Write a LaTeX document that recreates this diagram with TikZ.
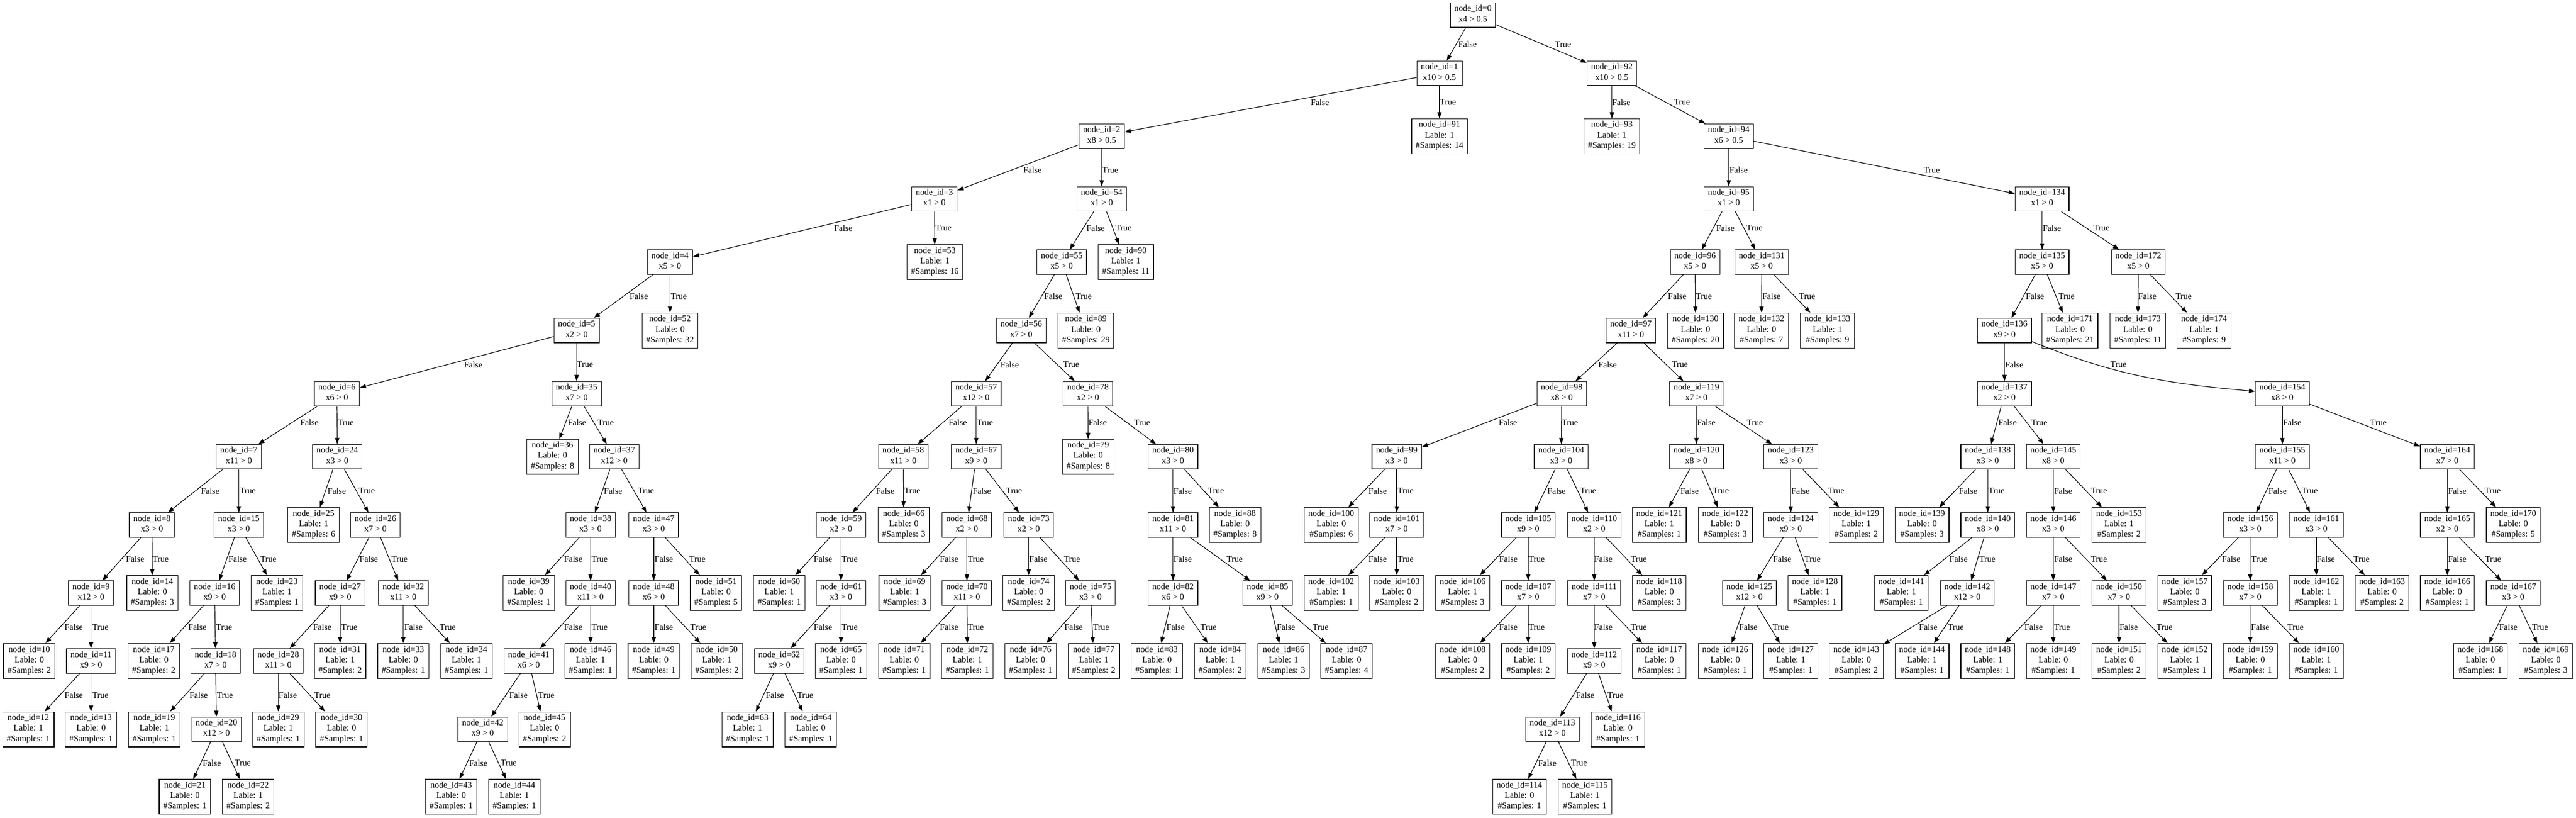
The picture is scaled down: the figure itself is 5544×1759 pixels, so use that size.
\documentclass[tikz,border=0pt]{standalone}
\usepackage{fontspec}
\setmainfont{Liberation Serif}
\usetikzlibrary{arrows.meta}

\begin{document}
\begin{tikzpicture}[x=0.75pt, y=-0.75pt,
    dnode/.style={rectangle, draw, line width=1pt, align=center, inner xsep=6.5pt, inner ysep=4pt,
      font=\fontsize{14}{16.8}\selectfont, execute at begin node=\strut, execute at end node=\strut},
    link/.style={-{Triangle[length=10pt, width=7pt]}, line width=1pt},
    lbl/.style={anchor=west, inner sep=0pt, font=\fontsize{14}{16.8}\selectfont}]
    \useasboundingbox (0, 0) rectangle (5544, 1759);
    % Nodes
    \node (n0) [dnode] at (3170, 32.4) {node\_id=0\\x4 > 0.5};
    \node (n1) [dnode] at (3098, 157.6) {node\_id=1\\x10 > 0.5};
    \node (n92) [dnode] at (3469, 157.6) {node\_id=92\\x10 > 0.5};
    \node (n2) [dnode] at (2371, 293) {node\_id=2\\x8 > 0.5};
    \node (n91) [dnode] at (3098, 293) {node\_id=91\\Lable: 1\\\#Samples: 14};
    \node (n93) [dnode] at (3469, 293) {node\_id=93\\Lable: 1\\\#Samples: 19};
    \node (n94) [dnode] at (3720.5, 293) {node\_id=94\\x6 > 0.5};
    \node (n3) [dnode] at (2011, 428) {node\_id=3\\x1 > 0};
    \node (n54) [dnode] at (2371, 428) {node\_id=54\\x1 > 0};
    \node (n95) [dnode] at (3720.5, 428) {node\_id=95\\x1 > 0};
    \node (n134) [dnode] at (4395, 428) {node\_id=134\\x1 > 0};
    \node (n4) [dnode] at (1442, 564) {node\_id=4\\x5 > 0};
    \node (n53) [dnode] at (2012, 564) {node\_id=53\\Lable: 1\\\#Samples: 16};
    \node (n55) [dnode] at (2285, 564) {node\_id=55\\x5 > 0};
    \node (n90) [dnode] at (2423, 564) {node\_id=90\\Lable: 1\\\#Samples: 11};
    \node (n96) [dnode] at (3648, 564) {node\_id=96\\x5 > 0};
    \node (n131) [dnode] at (3791.5, 564) {node\_id=131\\x5 > 0};
    \node (n135) [dnode] at (4395, 564) {node\_id=135\\x5 > 0};
    \node (n172) [dnode] at (4602, 564) {node\_id=172\\x5 > 0};
    \node (n5) [dnode] at (1241, 711) {node\_id=5\\x2 > 0};
    \node (n52) [dnode] at (1442, 711) {node\_id=52\\Lable: 0\\\#Samples: 32};
    \node (n56) [dnode] at (2198, 711) {node\_id=56\\x7 > 0};
    \node (n89) [dnode] at (2337, 711) {node\_id=89\\Lable: 0\\\#Samples: 29};
    \node (n97) [dnode] at (3510, 711) {node\_id=97\\x11 > 0};
    \node (n130) [dnode] at (3649, 711) {node\_id=130\\Lable: 0\\\#Samples: 20};
    \node (n132) [dnode] at (3791, 711) {node\_id=132\\Lable: 0\\\#Samples: 7};
    \node (n133) [dnode] at (3933, 711) {node\_id=133\\Lable: 1\\\#Samples: 9};
    \node (n136) [dnode] at (4314, 711) {node\_id=136\\x9 > 0};
    \node (n171) [dnode] at (4455, 711) {node\_id=171\\Lable: 0\\\#Samples: 21};
    \node (n173) [dnode] at (4601, 711) {node\_id=173\\Lable: 0\\\#Samples: 11};
    \node (n174) [dnode] at (4743.5, 711) {node\_id=174\\Lable: 1\\\#Samples: 9};
    \node (n6) [dnode] at (725, 847) {node\_id=6\\x6 > 0};
    \node (n35) [dnode] at (1241, 847) {node\_id=35\\x7 > 0};
    \node (n57) [dnode] at (2101, 847) {node\_id=57\\x12 > 0};
    \node (n78) [dnode] at (2341.5, 847) {node\_id=78\\x2 > 0};
    \node (n98) [dnode] at (3361, 847) {node\_id=98\\x8 > 0};
    \node (n119) [dnode] at (3651, 847) {node\_id=119\\x7 > 0};
    \node (n137) [dnode] at (4314, 847) {node\_id=137\\x2 > 0};
    \node (n154) [dnode] at (4912, 847) {node\_id=154\\x8 > 0};
    \node (n7) [dnode] at (514, 982.5) {node\_id=7\\x11 > 0};
    \node (n24) [dnode] at (726, 982.5) {node\_id=24\\x3 > 0};
    \node (n36) [dnode] at (1189, 982.5) {node\_id=36\\Lable: 0\\\#Samples: 8};
    \node (n37) [dnode] at (1322, 982.5) {node\_id=37\\x12 > 0};
    \node (n58) [dnode] at (1944, 982.5) {node\_id=58\\x11 > 0};
    \node (n67) [dnode] at (2101, 982.5) {node\_id=67\\x9 > 0};
    \node (n79) [dnode] at (2342, 982.5) {node\_id=79\\Lable: 0\\\#Samples: 8};
    \node (n80) [dnode] at (2524.5, 982.5) {node\_id=80\\x3 > 0};
    \node (n99) [dnode] at (3006, 982.5) {node\_id=99\\x3 > 0};
    \node (n104) [dnode] at (3360, 982.5) {node\_id=104\\x3 > 0};
    \node (n120) [dnode] at (3651, 982.5) {node\_id=120\\x8 > 0};
    \node (n123) [dnode] at (3854, 982.5) {node\_id=123\\x3 > 0};
    \node (n138) [dnode] at (4278, 982.5) {node\_id=138\\x3 > 0};
    \node (n145) [dnode] at (4419, 982.5) {node\_id=145\\x8 > 0};
    \node (n155) [dnode] at (4912, 982.5) {node\_id=155\\x11 > 0};
    \node (n164) [dnode] at (5267, 982.5) {node\_id=164\\x7 > 0};
    \node (n8) [dnode] at (327, 1129.5) {node\_id=8\\x3 > 0};
    \node (n15) [dnode] at (514, 1129.5) {node\_id=15\\x3 > 0};
    \node (n25) [dnode] at (675, 1129.5) {node\_id=25\\Lable: 1\\\#Samples: 6};
    \node (n26) [dnode] at (808, 1129.5) {node\_id=26\\x7 > 0};
    \node (n38) [dnode] at (1271, 1129.5) {node\_id=38\\x3 > 0};
    \node (n47) [dnode] at (1407, 1129.5) {node\_id=47\\x3 > 0};
    \node (n59) [dnode] at (1810, 1129.5) {node\_id=59\\x2 > 0};
    \node (n66) [dnode] at (1945, 1129.5) {node\_id=66\\Lable: 0\\\#Samples: 3};
    \node (n68) [dnode] at (2081, 1129.5) {node\_id=68\\x2 > 0};
    \node (n73) [dnode] at (2214, 1129.5) {node\_id=73\\x2 > 0};
    \node (n81) [dnode] at (2524.5, 1129.5) {node\_id=81\\x11 > 0};
    \node (n88) [dnode] at (2658, 1129.5) {node\_id=88\\Lable: 0\\\#Samples: 8};
    \node (n100) [dnode] at (2865, 1129.5) {node\_id=100\\Lable: 0\\\#Samples: 6};
    \node (n101) [dnode] at (3006, 1129.5) {node\_id=101\\x7 > 0};
    \node (n105) [dnode] at (3289, 1129.5) {node\_id=105\\x9 > 0};
    \node (n110) [dnode] at (3431, 1129.5) {node\_id=110\\x2 > 0};
    \node (n121) [dnode] at (3571, 1129.5) {node\_id=121\\Lable: 1\\\#Samples: 1};
    \node (n122) [dnode] at (3713, 1129.5) {node\_id=122\\Lable: 0\\\#Samples: 3};
    \node (n124) [dnode] at (3854, 1129.5) {node\_id=124\\x9 > 0};
    \node (n129) [dnode] at (3995, 1129.5) {node\_id=129\\Lable: 1\\\#Samples: 2};
    \node (n139) [dnode] at (4136.5, 1129.5) {node\_id=139\\Lable: 0\\\#Samples: 3};
    \node (n140) [dnode] at (4278, 1129.5) {node\_id=140\\x8 > 0};
    \node (n146) [dnode] at (4419, 1129.5) {node\_id=146\\x3 > 0};
    \node (n153) [dnode] at (4560.5, 1129.5) {node\_id=153\\Lable: 1\\\#Samples: 2};
    \node (n156) [dnode] at (4843, 1129.5) {node\_id=156\\x3 > 0};
    \node (n161) [dnode] at (4985, 1129.5) {node\_id=161\\x3 > 0};
    \node (n165) [dnode] at (5267, 1129.5) {node\_id=165\\x2 > 0};
    \node (n170) [dnode] at (5409, 1129.5) {node\_id=170\\Lable: 0\\\#Samples: 5};
    \node (n9) [dnode] at (196, 1276) {node\_id=9\\x12 > 0};
    \node (n14) [dnode] at (328, 1276) {node\_id=14\\Lable: 0\\\#Samples: 3};
    \node (n16) [dnode] at (462, 1276) {node\_id=16\\x9 > 0};
    \node (n23) [dnode] at (596, 1276) {node\_id=23\\Lable: 1\\\#Samples: 1};
    \node (n27) [dnode] at (732, 1276) {node\_id=27\\x9 > 0};
    \node (n32) [dnode] at (868, 1276) {node\_id=32\\x11 > 0};
    \node (n39) [dnode] at (1138, 1276) {node\_id=39\\Lable: 0\\\#Samples: 1};
    \node (n40) [dnode] at (1271, 1276) {node\_id=40\\x11 > 0};
    \node (n48) [dnode] at (1407, 1276) {node\_id=48\\x6 > 0};
    \node (n51) [dnode] at (1541, 1276) {node\_id=51\\Lable: 0\\\#Samples: 5};
    \node (n60) [dnode] at (1677, 1276) {node\_id=60\\Lable: 1\\\#Samples: 1};
    \node (n61) [dnode] at (1810, 1276) {node\_id=61\\x3 > 0};
    \node (n69) [dnode] at (1947, 1276) {node\_id=69\\Lable: 1\\\#Samples: 3};
    \node (n70) [dnode] at (2081, 1276) {node\_id=70\\x11 > 0};
    \node (n74) [dnode] at (2214, 1276) {node\_id=74\\Lable: 0\\\#Samples: 2};
    \node (n75) [dnode] at (2347, 1276) {node\_id=75\\x3 > 0};
    \node (n82) [dnode] at (2524.5, 1276) {node\_id=82\\x6 > 0};
    \node (n85) [dnode] at (2728, 1276) {node\_id=85\\x9 > 0};
    \node (n102) [dnode] at (2865, 1276) {node\_id=102\\Lable: 1\\\#Samples: 1};
    \node (n103) [dnode] at (3006, 1276) {node\_id=103\\Lable: 0\\\#Samples: 2};
    \node (n106) [dnode] at (3148, 1276) {node\_id=106\\Lable: 1\\\#Samples: 3};
    \node (n107) [dnode] at (3289, 1276) {node\_id=107\\x7 > 0};
    \node (n111) [dnode] at (3431, 1276) {node\_id=111\\x7 > 0};
    \node (n118) [dnode] at (3571, 1276) {node\_id=118\\Lable: 0\\\#Samples: 3};
    \node (n125) [dnode] at (3765, 1276) {node\_id=125\\x12 > 0};
    \node (n128) [dnode] at (3906, 1276) {node\_id=128\\Lable: 1\\\#Samples: 1};
    \node (n141) [dnode] at (4092, 1276) {node\_id=141\\Lable: 1\\\#Samples: 1};
    \node (n142) [dnode] at (4234, 1276) {node\_id=142\\x12 > 0};
    \node (n147) [dnode] at (4419, 1276) {node\_id=147\\x7 > 0};
    \node (n150) [dnode] at (4560.5, 1276) {node\_id=150\\x7 > 0};
    \node (n157) [dnode] at (4702, 1276) {node\_id=157\\Lable: 0\\\#Samples: 3};
    \node (n158) [dnode] at (4843, 1276) {node\_id=158\\x7 > 0};
    \node (n162) [dnode] at (4985, 1276) {node\_id=162\\Lable: 1\\\#Samples: 1};
    \node (n163) [dnode] at (5126.5, 1276) {node\_id=163\\Lable: 0\\\#Samples: 2};
    \node (n166) [dnode] at (5267, 1276) {node\_id=166\\Lable: 0\\\#Samples: 1};
    \node (n167) [dnode] at (5409, 1276) {node\_id=167\\x3 > 0};
    \node (n10) [dnode] at (63, 1422) {node\_id=10\\Lable: 0\\\#Samples: 2};
    \node (n11) [dnode] at (196, 1422) {node\_id=11\\x9 > 0};
    \node (n17) [dnode] at (331, 1422) {node\_id=17\\Lable: 0\\\#Samples: 2};
    \node (n18) [dnode] at (464, 1422) {node\_id=18\\x7 > 0};
    \node (n28) [dnode] at (599, 1422) {node\_id=28\\x11 > 0};
    \node (n31) [dnode] at (732, 1422) {node\_id=31\\Lable: 1\\\#Samples: 2};
    \node (n33) [dnode] at (868, 1422) {node\_id=33\\Lable: 0\\\#Samples: 1};
    \node (n34) [dnode] at (1004, 1422) {node\_id=34\\Lable: 1\\\#Samples: 1};
    \node (n41) [dnode] at (1138, 1422) {node\_id=41\\x6 > 0};
    \node (n46) [dnode] at (1271, 1422) {node\_id=46\\Lable: 1\\\#Samples: 1};
    \node (n49) [dnode] at (1407, 1422) {node\_id=49\\Lable: 0\\\#Samples: 1};
    \node (n50) [dnode] at (1543, 1422) {node\_id=50\\Lable: 1\\\#Samples: 2};
    \node (n62) [dnode] at (1677, 1422) {node\_id=62\\x9 > 0};
    \node (n65) [dnode] at (1810, 1422) {node\_id=65\\Lable: 0\\\#Samples: 1};
    \node (n71) [dnode] at (1946, 1422) {node\_id=71\\Lable: 0\\\#Samples: 1};
    \node (n72) [dnode] at (2082, 1422) {node\_id=72\\Lable: 1\\\#Samples: 1};
    \node (n76) [dnode] at (2218, 1422) {node\_id=76\\Lable: 0\\\#Samples: 1};
    \node (n77) [dnode] at (2354, 1422) {node\_id=77\\Lable: 1\\\#Samples: 2};
    \node (n83) [dnode] at (2490, 1422) {node\_id=83\\Lable: 0\\\#Samples: 1};
    \node (n84) [dnode] at (2626, 1422) {node\_id=84\\Lable: 1\\\#Samples: 2};
    \node (n86) [dnode] at (2762.5, 1422) {node\_id=86\\Lable: 1\\\#Samples: 3};
    \node (n87) [dnode] at (2898, 1422) {node\_id=87\\Lable: 0\\\#Samples: 4};
    \node (n108) [dnode] at (3148, 1422) {node\_id=108\\Lable: 0\\\#Samples: 2};
    \node (n109) [dnode] at (3289, 1422) {node\_id=109\\Lable: 1\\\#Samples: 2};
    \node (n112) [dnode] at (3431, 1422) {node\_id=112\\x9 > 0};
    \node (n117) [dnode] at (3571, 1422) {node\_id=117\\Lable: 0\\\#Samples: 1};
    \node (n126) [dnode] at (3713, 1422) {node\_id=126\\Lable: 0\\\#Samples: 1};
    \node (n127) [dnode] at (3854, 1422) {node\_id=127\\Lable: 1\\\#Samples: 1};
    \node (n143) [dnode] at (3995, 1422) {node\_id=143\\Lable: 0\\\#Samples: 2};
    \node (n144) [dnode] at (4136.5, 1422) {node\_id=144\\Lable: 1\\\#Samples: 1};
    \node (n148) [dnode] at (4278, 1422) {node\_id=148\\Lable: 1\\\#Samples: 1};
    \node (n149) [dnode] at (4419, 1422) {node\_id=149\\Lable: 0\\\#Samples: 1};
    \node (n151) [dnode] at (4560.5, 1422) {node\_id=151\\Lable: 0\\\#Samples: 2};
    \node (n152) [dnode] at (4702, 1422) {node\_id=152\\Lable: 1\\\#Samples: 1};
    \node (n159) [dnode] at (4843, 1422) {node\_id=159\\Lable: 0\\\#Samples: 1};
    \node (n160) [dnode] at (4985, 1422) {node\_id=160\\Lable: 1\\\#Samples: 1};
    \node (n168) [dnode] at (5338, 1422) {node\_id=168\\Lable: 0\\\#Samples: 1};
    \node (n169) [dnode] at (5479, 1422) {node\_id=169\\Lable: 0\\\#Samples: 3};
    \node (n12) [dnode] at (61, 1569) {node\_id=12\\Lable: 1\\\#Samples: 1};
    \node (n13) [dnode] at (196, 1569) {node\_id=13\\Lable: 0\\\#Samples: 1};
    \node (n19) [dnode] at (332, 1569) {node\_id=19\\Lable: 1\\\#Samples: 1};
    \node (n20) [dnode] at (466, 1569) {node\_id=20\\x12 > 0};
    \node (n29) [dnode] at (599, 1569) {node\_id=29\\Lable: 1\\\#Samples: 1};
    \node (n30) [dnode] at (735, 1569) {node\_id=30\\Lable: 0\\\#Samples: 1};
    \node (n42) [dnode] at (1039, 1569) {node\_id=42\\x9 > 0};
    \node (n45) [dnode] at (1172, 1569) {node\_id=45\\Lable: 0\\\#Samples: 2};
    \node (n63) [dnode] at (1609, 1569) {node\_id=63\\Lable: 1\\\#Samples: 1};
    \node (n64) [dnode] at (1745, 1569) {node\_id=64\\Lable: 0\\\#Samples: 1};
    \node (n113) [dnode] at (3341, 1569) {node\_id=113\\x12 > 0};
    \node (n116) [dnode] at (3482, 1569) {node\_id=116\\Lable: 0\\\#Samples: 1};
    \node (n21) [dnode] at (398, 1714) {node\_id=21\\Lable: 0\\\#Samples: 1};
    \node (n22) [dnode] at (534, 1714) {node\_id=22\\Lable: 1\\\#Samples: 2};
    \node (n43) [dnode] at (971, 1714) {node\_id=43\\Lable: 0\\\#Samples: 1};
    \node (n44) [dnode] at (1107, 1714) {node\_id=44\\Lable: 1\\\#Samples: 1};
    \node (n114) [dnode] at (3270, 1714) {node\_id=114\\Lable: 0\\\#Samples: 1};
    \node (n115) [dnode] at (3411, 1714) {node\_id=115\\Lable: 1\\\#Samples: 1};
    % Arrows
    \draw[link] (n0) -- (n1) node [lbl] (e1) at (3138, 95) {False};
    \draw[link] (n0) -- (n92) node [lbl] (e92) at (3346, 95) {True};
    \draw[link] (n1) -- (n2) node [lbl] (e2) at (2820.5, 220) {False};
    \draw[link] (n1) -- (n91) node [lbl] (e91) at (3098.2, 220) {True};
    \draw[link] (n92) -- (n93) node [lbl] (e93) at (3468.8, 220) {False};
    \draw[link] (n92) -- (n94) node [lbl] (e94) at (3601.8, 220) {True};
    \draw[link] (n2) -- (n3) node [lbl] (e3) at (2201.8, 366) {False};
    \draw[link] (n2) -- (n54) node [lbl] (e54) at (2371.4, 366) {True};
    \draw[link] (n94) -- (n95) node [lbl] (e95) at (3721.4, 366) {False};
    \draw[link] (n94) -- (n134) node [lbl] (e134) at (4139.3, 366) {True};
    \draw[link] (n3) -- (n4) node [lbl] (e4) at (1794.6, 490.5) {False};
    \draw[link] (n3) -- (n53) node [lbl] (e53) at (2012.5, 490.5) {True};
    \draw[link] (n54) -- (n55) node [lbl] (e55) at (2337.5, 490.5) {False};
    \draw[link] (n54) -- (n90) node [lbl] (e90) at (2400, 490.5) {True};
    \draw[link] (n95) -- (n96) node [lbl] (e96) at (3692.9, 490.5) {False};
    \draw[link] (n95) -- (n131) node [lbl] (e131) at (3758, 490.5) {True};
    \draw[link] (n134) -- (n135) node [lbl] (e135) at (4395.8, 490.5) {False};
    \draw[link] (n134) -- (n172) node [lbl] (e172) at (4504.7, 490.5) {True};
    \draw[link] (n4) -- (n5) node [lbl] (e5) at (1354.5, 637.5) {False};
    \draw[link] (n4) -- (n52) node [lbl] (e52) at (1442.9, 637.5) {True};
    \draw[link] (n55) -- (n56) node [lbl] (e56) at (2246.4, 637.5) {False};
    \draw[link] (n55) -- (n89) node [lbl] (e89) at (2314.3, 637.5) {True};
    \draw[link] (n96) -- (n97) node [lbl] (e97) at (3589.3, 637.5) {False};
    \draw[link] (n96) -- (n130) node [lbl] (e130) at (3649, 637.5) {True};
    \draw[link] (n131) -- (n132) node [lbl] (e132) at (3792, 637.5) {False};
    \draw[link] (n131) -- (n133) node [lbl] (e133) at (3871.4, 637.5) {True};
    \draw[link] (n135) -- (n136) node [lbl] (e136) at (4359.2, 637.5) {False};
    \draw[link] (n135) -- (n171) node [lbl] (e171) at (4429.7, 637.5) {True};
    \draw[link] (n172) -- (n173) node [lbl] (e173) at (4601, 637.5) {False};
    \draw[link] (n172) -- (n174) node [lbl] (e174) at (4681.5, 637.5) {True};
    \draw[link] (n5) -- (n6) node [lbl] (e6) at (998.2, 784.5) {False};
    \draw[link] (n5) -- (n35) node [lbl] (e35) at (1241, 784.5) {True};
    \draw[link] (n56) -- (n57) node [lbl] (e57) at (2152.7, 784.5) {False};
    \draw[link] (n56) -- (n78) node [lbl] (e78) at (2287.5, 784.5) {True};
    \draw[link] (n97) -- (n98) node [lbl] (e98) at (3439.3, 784.5) {False};
    \draw[link] (n97) -- (n119) node [lbl] (e119) at (3597.3, 784.5) {True};
    \draw[link] (n136) -- (n137) node [lbl] (e137) at (4314.5, 784.5) {False};
    \draw[link] (n136) to[out=-22, in=175] (n154) node [lbl] (e154) at (4541.3, 784.5) {True};
    \draw[link] (n6) -- (n7) node [lbl] (e7) at (645.5, 909.3) {False};
    \draw[link] (n6) -- (n24) node [lbl] (e24) at (726, 909.3) {True};
    \draw[link] (n35) -- (n36) node [lbl] (e36) at (1221.4, 909.3) {False};
    \draw[link] (n35) -- (n37) node [lbl] (e37) at (1285.7, 909.3) {True};
    \draw[link] (n57) -- (n58) node [lbl] (e58) at (2041, 909.3) {False};
    \draw[link] (n57) -- (n67) node [lbl] (e67) at (2101.8, 909.3) {True};
    \draw[link] (n78) -- (n79) node [lbl] (e79) at (2342, 909.3) {False};
    \draw[link] (n78) -- (n80) node [lbl] (e80) at (2440.2, 909.3) {True};
    \draw[link] (n98) -- (n99) node [lbl] (e99) at (3225, 909.3) {False};
    \draw[link] (n98) -- (n104) node [lbl] (e104) at (3360.7, 909.3) {True};
    \draw[link] (n119) -- (n120) node [lbl] (e120) at (3651.8, 909.3) {False};
    \draw[link] (n119) -- (n123) node [lbl] (e123) at (3758.9, 909.3) {True};
    \draw[link] (n137) -- (n138) node [lbl] (e138) at (4300.3, 909.3) {False};
    \draw[link] (n137) -- (n145) node [lbl] (e145) at (4370.8, 909.3) {True};
    \draw[link] (n154) -- (n155) node [lbl] (e155) at (4912.8, 909.3) {False};
    \draw[link] (n154) -- (n164) node [lbl] (e164) at (5101.1, 909.3) {True};
    \draw[link] (n7) -- (n8) node [lbl] (e8) at (432, 1056) {False};
    \draw[link] (n7) -- (n15) node [lbl] (e15) at (515.2, 1056) {True};
    \draw[link] (n24) -- (n25) node [lbl] (e25) at (704.5, 1056) {False};
    \draw[link] (n24) -- (n26) node [lbl] (e26) at (771.4, 1056) {True};
    \draw[link] (n37) -- (n38) node [lbl] (e38) at (1299.1, 1056) {False};
    \draw[link] (n37) -- (n47) node [lbl] (e47) at (1372.3, 1056) {True};
    \draw[link] (n58) -- (n59) node [lbl] (e59) at (1884.8, 1056) {False};
    \draw[link] (n58) -- (n66) node [lbl] (e66) at (1945.5, 1056) {True};
    \draw[link] (n67) -- (n68) node [lbl] (e68) at (2092.9, 1056) {False};
    \draw[link] (n67) -- (n73) node [lbl] (e73) at (2164.3, 1056) {True};
    \draw[link] (n80) -- (n81) node [lbl] (e81) at (2525, 1056) {False};
    \draw[link] (n80) -- (n88) node [lbl] (e88) at (2599.1, 1056) {True};
    \draw[link] (n99) -- (n100) node [lbl] (e100) at (2944.6, 1056) {False};
    \draw[link] (n99) -- (n101) node [lbl] (e101) at (3007.1, 1056) {True};
    \draw[link] (n104) -- (n105) node [lbl] (e105) at (3329.5, 1056) {False};
    \draw[link] (n104) -- (n110) node [lbl] (e110) at (3400, 1056) {True};
    \draw[link] (n120) -- (n121) node [lbl] (e121) at (3616, 1056) {False};
    \draw[link] (n120) -- (n122) node [lbl] (e122) at (3685.7, 1056) {True};
    \draw[link] (n123) -- (n124) node [lbl] (e124) at (3854.5, 1056) {False};
    \draw[link] (n123) -- (n129) node [lbl] (e129) at (3933.9, 1056) {True};
    \draw[link] (n138) -- (n139) node [lbl] (e139) at (4215.4, 1056) {False};
    \draw[link] (n138) -- (n140) node [lbl] (e140) at (4278.8, 1056) {True};
    \draw[link] (n145) -- (n146) node [lbl] (e146) at (4419.9, 1056) {False};
    \draw[link] (n145) -- (n153) node [lbl] (e153) at (4499.4, 1056) {True};
    \draw[link] (n155) -- (n156) node [lbl] (e156) at (4881.5, 1056) {False};
    \draw[link] (n155) -- (n161) node [lbl] (e161) at (4952.9, 1056) {True};
    \draw[link] (n164) -- (n165) node [lbl] (e165) at (5268.1, 1056) {False};
    \draw[link] (n164) -- (n170) node [lbl] (e170) at (5346.7, 1056) {True};
    \draw[link] (n8) -- (n9) node [lbl] (e9) at (270.5, 1202.8) {False};
    \draw[link] (n8) -- (n14) node [lbl] (e14) at (327.7, 1202.8) {True};
    \draw[link] (n15) -- (n16) node [lbl] (e16) at (491, 1202.8) {False};
    \draw[link] (n15) -- (n23) node [lbl] (e23) at (559.8, 1202.8) {True};
    \draw[link] (n26) -- (n27) node [lbl] (e27) at (773.2, 1202.8) {False};
    \draw[link] (n26) -- (n32) node [lbl] (e32) at (842, 1202.8) {True};
    \draw[link] (n38) -- (n39) node [lbl] (e39) at (1213.4, 1202.8) {False};
    \draw[link] (n38) -- (n40) node [lbl] (e40) at (1272.3, 1202.8) {True};
    \draw[link] (n47) -- (n48) node [lbl] (e48) at (1408.3, 1202.8) {False};
    \draw[link] (n47) -- (n51) node [lbl] (e51) at (1483, 1202.8) {True};
    \draw[link] (n59) -- (n60) node [lbl] (e60) at (1750.9, 1202.8) {False};
    \draw[link] (n59) -- (n61) node [lbl] (e61) at (1810.7, 1202.8) {True};
    \draw[link] (n68) -- (n69) node [lbl] (e69) at (2022.3, 1202.8) {False};
    \draw[link] (n68) -- (n70) node [lbl] (e70) at (2082.1, 1202.8) {True};
    \draw[link] (n73) -- (n74) node [lbl] (e74) at (2214.3, 1202.8) {False};
    \draw[link] (n73) -- (n75) node [lbl] (e75) at (2289.3, 1202.8) {True};
    \draw[link] (n81) -- (n82) node [lbl] (e82) at (2525, 1202.8) {False};
    \draw[link] (n81) -- (n85) node [lbl] (e85) at (2639.3, 1202.8) {True};
    \draw[link] (n101) -- (n102) node [lbl] (e102) at (2944.6, 1202.8) {False};
    \draw[link] (n101) -- (n103) node [lbl] (e103) at (3007.1, 1202.8) {True};
    \draw[link] (n105) -- (n106) node [lbl] (e106) at (3225.9, 1202.8) {False};
    \draw[link] (n105) -- (n107) node [lbl] (e107) at (3289.3, 1202.8) {True};
    \draw[link] (n110) -- (n111) node [lbl] (e111) at (3430.4, 1202.8) {False};
    \draw[link] (n110) -- (n118) node [lbl] (e118) at (3508.9, 1202.8) {True};
    \draw[link] (n124) -- (n125) node [lbl] (e125) at (3815.2, 1202.8) {False};
    \draw[link] (n124) -- (n128) node [lbl] (e128) at (3883, 1202.8) {True};
    \draw[link] (n140) -- (n141) node [lbl] (e141) at (4194.9, 1202.8) {False};
    \draw[link] (n140) -- (n142) node [lbl] (e142) at (4259.2, 1202.8) {True};
    \draw[link] (n146) -- (n147) node [lbl] (e147) at (4419.9, 1202.8) {False};
    \draw[link] (n146) -- (n150) node [lbl] (e150) at (4499.4, 1202.8) {True};
    \draw[link] (n156) -- (n157) node [lbl] (e157) at (4781.5, 1202.8) {False};
    \draw[link] (n156) -- (n158) node [lbl] (e158) at (4844, 1202.8) {True};
    \draw[link] (n161) -- (n162) node [lbl] (e162) at (4985.1, 1202.8) {False};
    \draw[link] (n161) -- (n163) node [lbl] (e163) at (5064.5, 1202.8) {True};
    \draw[link] (n165) -- (n166) node [lbl] (e166) at (5268.1, 1202.8) {False};
    \draw[link] (n165) -- (n167) node [lbl] (e167) at (5347.6, 1202.8) {True};
    \draw[link] (n9) -- (n10) node [lbl] (e10) at (138.4, 1349) {False};
    \draw[link] (n9) -- (n11) node [lbl] (e11) at (198.2, 1349) {True};
    \draw[link] (n16) -- (n17) node [lbl] (e17) at (404.5, 1349) {False};
    \draw[link] (n16) -- (n18) node [lbl] (e18) at (464.3, 1349) {True};
    \draw[link] (n27) -- (n28) node [lbl] (e28) at (673.2, 1349) {False};
    \draw[link] (n27) -- (n31) node [lbl] (e31) at (733.9, 1349) {True};
    \draw[link] (n32) -- (n33) node [lbl] (e33) at (869.6, 1349) {False};
    \draw[link] (n32) -- (n34) node [lbl] (e34) at (945.5, 1349) {True};
    \draw[link] (n40) -- (n41) node [lbl] (e41) at (1213.4, 1349) {False};
    \draw[link] (n40) -- (n46) node [lbl] (e46) at (1272.3, 1349) {True};
    \draw[link] (n48) -- (n49) node [lbl] (e49) at (1408.3, 1349) {False};
    \draw[link] (n48) -- (n50) node [lbl] (e50) at (1484.8, 1349) {True};
    \draw[link] (n61) -- (n62) node [lbl] (e62) at (1750.9, 1349) {False};
    \draw[link] (n61) -- (n65) node [lbl] (e65) at (1810.7, 1349) {True};
    \draw[link] (n70) -- (n71) node [lbl] (e71) at (2022.3, 1349) {False};
    \draw[link] (n70) -- (n72) node [lbl] (e72) at (2082.1, 1349) {True};
    \draw[link] (n75) -- (n76) node [lbl] (e76) at (2290.2, 1349) {False};
    \draw[link] (n75) -- (n77) node [lbl] (e77) at (2351.8, 1349) {True};
    \draw[link] (n82) -- (n83) node [lbl] (e83) at (2509.8, 1349) {False};
    \draw[link] (n82) -- (n84) node [lbl] (e84) at (2583, 1349) {True};
    \draw[link] (n85) -- (n86) node [lbl] (e86) at (2747.3, 1349) {False};
    \draw[link] (n85) -- (n87) node [lbl] (e87) at (2824.1, 1349) {True};
    \draw[link] (n107) -- (n108) node [lbl] (e108) at (3225.9, 1349) {False};
    \draw[link] (n107) -- (n109) node [lbl] (e109) at (3289.3, 1349) {True};
    \draw[link] (n111) -- (n112) node [lbl] (e112) at (3430.4, 1349) {False};
    \draw[link] (n111) -- (n117) node [lbl] (e117) at (3508.9, 1349) {True};
    \draw[link] (n125) -- (n126) node [lbl] (e126) at (3742, 1349) {False};
    \draw[link] (n125) -- (n127) node [lbl] (e127) at (3814.3, 1349) {True};
    \draw[link] (n142) -- (n143) node [lbl] (e143) at (4129.5, 1349) {False};
    \draw[link] (n142) -- (n144) node [lbl] (e144) at (4191.3, 1349) {True};
    \draw[link] (n147) -- (n148) node [lbl] (e148) at (4356.5, 1349) {False};
    \draw[link] (n147) -- (n149) node [lbl] (e149) at (4419.9, 1349) {True};
    \draw[link] (n150) -- (n151) node [lbl] (e151) at (4561, 1349) {False};
    \draw[link] (n150) -- (n152) node [lbl] (e152) at (4640.4, 1349) {True};
    \draw[link] (n158) -- (n159) node [lbl] (e159) at (4844, 1349) {False};
    \draw[link] (n158) -- (n160) node [lbl] (e160) at (4922.6, 1349) {True};
    \draw[link] (n167) -- (n168) node [lbl] (e168) at (5377.9, 1349) {False};
    \draw[link] (n167) -- (n169) node [lbl] (e169) at (5448.5, 1349) {True};
    \draw[link] (n11) -- (n12) node [lbl] (e12) at (138.4, 1495.5) {False};
    \draw[link] (n11) -- (n13) node [lbl] (e13) at (198.2, 1495.5) {True};
    \draw[link] (n18) -- (n19) node [lbl] (e19) at (407.1, 1495.5) {False};
    \draw[link] (n18) -- (n20) node [lbl] (e20) at (466.1, 1495.5) {True};
    \draw[link] (n28) -- (n29) node [lbl] (e29) at (599.1, 1495.5) {False};
    \draw[link] (n28) -- (n30) node [lbl] (e30) at (675.9, 1495.5) {True};
    \draw[link] (n41) -- (n42) node [lbl] (e42) at (1095.5, 1495.5) {False};
    \draw[link] (n41) -- (n45) node [lbl] (e45) at (1158, 1495.5) {True};
    \draw[link] (n62) -- (n63) node [lbl] (e63) at (1647.3, 1495.5) {False};
    \draw[link] (n62) -- (n64) node [lbl] (e64) at (1715.2, 1495.5) {True};
    \draw[link] (n112) -- (n113) node [lbl] (e113) at (3391.1, 1495.5) {False};
    \draw[link] (n112) -- (n116) node [lbl] (e116) at (3458.9, 1495.5) {True};
    \draw[link] (n20) -- (n21) node [lbl] (e21) at (435.7, 1641.5) {False};
    \draw[link] (n20) -- (n22) node [lbl] (e22) at (504.5, 1641.5) {True};
    \draw[link] (n42) -- (n43) node [lbl] (e43) at (1008.9, 1641.5) {False};
    \draw[link] (n42) -- (n44) node [lbl] (e44) at (1076.8, 1641.5) {True};
    \draw[link] (n113) -- (n114) node [lbl] (e114) at (3309.8, 1641.5) {False};
    \draw[link] (n113) -- (n115) node [lbl] (e115) at (3380.4, 1641.5) {True};
\end{tikzpicture}
\end{document}
